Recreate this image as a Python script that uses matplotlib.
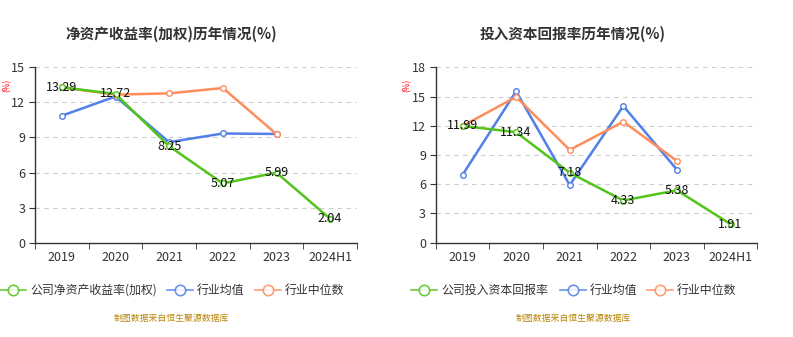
import numpy as np
import matplotlib
matplotlib.use("Agg")
import matplotlib.pyplot as plt
from matplotlib.lines import Line2D

plt.rcParams['font.family'] = ['Noto Sans CJK SC', 'DejaVu Sans']

years = ['2019', '2020', '2021', '2022', '2023', '2024H1']

# 净资产收益率(加权)
roe_company = [13.29, 12.72, 8.25, 5.07, 5.99, 2.04]
roe_mean = [10.86, 12.5, 8.6, 9.34, 9.3]
roe_median = [13.28, 12.66, 12.77, 13.23, 9.29]

# 投入资本回报率
roic_company = [11.99, 11.34, 7.18, 4.33, 5.38, 1.91]
roic_mean = [6.95, 15.54, 5.92, 14.03, 7.5]
roic_median = [11.98, 14.96, 9.52, 12.42, 8.39]

c_green = '#52c41a'
c_blue = '#5080e8'
c_orange = '#ff8d5c'
c_axis = '#333333'

fig = plt.figure(figsize=(7.93, 3.37), dpi=100)


def draw_panel(rect, company, mean, median, ymax, title, company_name, title_x, legend_xs):
    ax = fig.add_axes(rect)
    x = np.arange(len(years))
    xs = np.arange(len(mean))
    mk = dict(marker='o', markersize=4, markerfacecolor='white', markeredgewidth=1.0)
    ax.plot(xs, mean, color=c_blue, lw=1.8, **mk, zorder=3)
    ax.plot(xs, median, color=c_orange, lw=1.8, **mk, zorder=3)
    ax.plot(x, company, color=c_green, lw=1.8, **mk, zorder=4)
    for xi, v in zip(x, company):
        ax.text(xi, v, f'{v:.2f}', ha='center', va='center', fontsize=9,
                color='#111111', zorder=5)

    ax.set_xlim(-0.5, len(years) - 0.5)
    ax.set_ylim(0, ymax)
    ax.set_yticks(np.arange(0, ymax + 0.1, 3))
    ax.set_xticks(x)
    ax.set_xticklabels(years)
    ax.set_xticks(np.arange(-0.5, len(years), 1), minor=True)
    ax.tick_params(axis='x', which='major', length=0, pad=6, labelsize=9, labelcolor=c_axis)
    ax.tick_params(axis='x', which='minor', length=4, color=c_axis)
    ax.tick_params(axis='y', length=4, color=c_axis, labelsize=9, labelcolor=c_axis, pad=3)
    for yv in np.arange(3, ymax + 0.1, 3):
        ax.axhline(yv, color='#cccccc', lw=0.8, ls=(0, (4, 4)), zorder=1)
    for s in ('top', 'right'):
        ax.spines[s].set_visible(False)
    for s in ('left', 'bottom'):
        ax.spines[s].set_color(c_axis)
        ax.spines[s].set_linewidth(1.0)

    fig.text(title_x, 1 - 34 / 337, title, ha='center', va='center',
             fontsize=10.5, fontweight='bold', color='#333333')
    fig.text(rect[0] - 0.036, 1 - 85 / 337, '(%)', rotation=90, ha='center', va='center',
             fontsize=6, color='red')

    # legend
    ly = 1 - 290 / 337
    labels = [company_name, '行业均值', '行业中位数']
    colors = [c_green, c_blue, c_orange]
    for lx, lab, col in zip(legend_xs, labels, colors):
        fig.add_artist(Line2D([lx - 13 / 793, lx + 13 / 793], [ly, ly], color=col, lw=1.2,
                              alpha=0.85, transform=fig.transFigure))
        fig.add_artist(Line2D([lx], [ly], marker='o', markersize=7.5, markerfacecolor='white',
                              markeredgecolor=col, markeredgewidth=1.2, alpha=0.85,
                              transform=fig.transFigure))
        fig.text(lx + 17 / 793, ly, lab, ha='left', va='center', fontsize=8.6, color='#333333')

    fig.text(title_x, 1 - 318 / 337, '制图数据来自恒生聚源数据库', ha='center', va='center',
             fontsize=6.4, color='#b8860b')
    return ax


draw_panel([35 / 793, 1 - 242.7 / 337, 322 / 793, 175.4 / 337],
           roe_company, roe_mean, roe_median, 15,
           '净资产收益率(加权)历年情况(%)', '公司净资产收益率(加权)', 171 / 793,
           [13 / 793, 180 / 793, 268 / 793])
draw_panel([435.7 / 793, 1 - 242.7 / 337, 321.6 / 793, 175.4 / 337],
           roic_company, roic_mean, roic_median, 18,
           '投入资本回报率历年情况(%)', '公司投入资本回报率', 573 / 793,
           [424 / 793, 573 / 793, 660 / 793])

fig.savefig('out.png', dpi=100)
